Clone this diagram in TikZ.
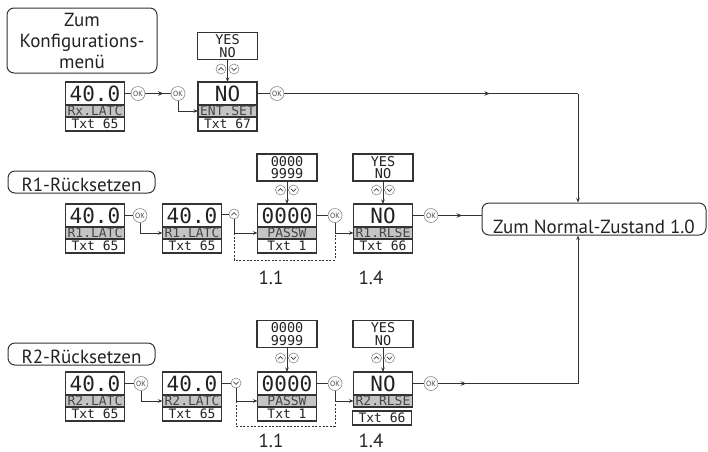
\documentclass[tikz,border=0pt]{standalone}
\usepackage{fontspec}
\setmainfont{PT Sans}
\newfontfamily\lcdfont{DejaVu Sans Mono}
\usetikzlibrary{arrows.meta,decorations.markings}
\newcommand\lcdbig{\lcdfont\fontsize{21}{21}\selectfont}
\newcommand\lcdsmall{\lcdfont\fontsize{13}{13}\selectfont}
\newcommand\lcdsel{\lcdfont\fontsize{13.5}{12.5}\selectfont}
\newcommand\bigsans{\fontsize{19}{21}\selectfont}
\definecolor{bc}{HTML}{333333}
\definecolor{lc}{HTML}{333333}
\definecolor{bandc}{HTML}{C4C4C4}
\definecolor{okc}{HTML}{8A8A8A}
\definecolor{okt}{HTML}{444444}
\definecolor{txc}{HTML}{222222}
\begin{document}
\begin{tikzpicture}[x=1pt,y=-1pt,
  ln/.style={draw=lc, line width=0.9pt},
  arr/.style={-{Stealth[length=4.5pt,width=3.5pt]}},
  midarr/.style={postaction={decorate}, decoration={markings, mark=at position #1 with {\arrow{Stealth[length=5.5pt,width=4.5pt]}}}},
  dotln/.style={draw=lc, line width=0.9pt, dash pattern=on 2pt off 1.6pt},
  disp/.style={draw=bc, line width=1.2pt, minimum width=59pt, inner sep=0pt, outer sep=0pt, anchor=north, text=txc},
  dtop/.style={disp, minimum height=23pt, font=\lcdbig},
  dband/.style={disp, minimum height=12pt, fill=bandc, font=\lcdsmall, text=okt},
  dbot/.style={disp, minimum height=14pt, font=\lcdsmall},
  selbox/.style={draw=bc, line width=1.2pt, minimum width=60pt, minimum height=27pt, inner sep=0pt, align=center, font=\lcdsel, text=txc},
  okcirc/.style={circle, draw=okc, line width=0.6pt, minimum size=14pt, inner sep=0pt, fill=white, text=okt, font=\fontsize{7.5}{7.5}\selectfont},
  keyc/.style={circle, draw=okc, line width=0.6pt, minimum size=10pt, inner sep=0pt, fill=white},
  chev/.style={draw=okt, line width=0.6pt},
  titlebox/.style={draw=bc, line width=1pt, rounded corners=7pt, inner xsep=0pt, font=\bigsans, text=txc},
  numlab/.style={font=\fontsize{19}{19}\selectfont, text=txc, inner sep=0pt}
]
\useasboundingbox (0,0) rectangle (708,451);

% title boxes
\node[titlebox, minimum width=150pt, minimum height=65pt, align=center] (K) at (82,40.5) {Zum\\Konfigurations-\\menü};
\node[titlebox, minimum width=147pt, minimum height=22pt, text height=19pt, text depth=0pt, inner ysep=1.5pt] (R1) at (81.5,182) {R1-Rücksetzen};
\node[titlebox, minimum width=147pt, minimum height=22pt, text height=19pt, text depth=0pt, inner ysep=1.5pt] (R2) at (81.5,354) {R2-Rücksetzen};
\node[titlebox, minimum width=224pt, minimum height=32pt, text height=28pt, text depth=0pt, inner ysep=2pt] (N) at (594,219) {Zum Normal-Zustand 1.0};

% ---------- row A ----------
\node[dtop] (A1t) at (95,82) {40.0};
\node[dband] (A1b) at (A1t.south) {Rx.LATC};
\node[dbot] (A1c) at (A1b.south) {Txt 65};
\node[okcirc] (A1ok) at (138,93.5) {OK};
\node[okcirc] (A2ok) at (178,93.5) {OK};

\node[selbox] (A3s) at (227.5,46) {YES\\NO};
\node[dtop] (A3t) at (227.5,82) {NO};
\node[dband] (A3b) at (A3t.south) {ENT.SET};
\node[dbot] (A3c) at (A3b.south) {Txt 67};
\node[okcirc] (A3ok) at (277,93.5) {OK};
\coordinate (Acorner) at (578,93.5);

% ---------- row B ----------
\node[dtop] (B1t) at (95,204) {40.0};
\node[dband] (B1b) at (B1t.south) {R1.LATC};
\node[dbot] (B1c) at (B1b.south) {Txt 65};
\node[okcirc] (B1ok) at (140,215.5) {OK};

\node[dtop] (B2t) at (192,204) {40.0};
\node[dband] (B2b) at (B2t.south) {R1.LATC};
\node[dbot] (B2c) at (B2b.south) {Txt 65};
\node[keyc] (B2up) at (234,214) {};

\node[selbox] (B3s) at (287,167.5) {0000\\9999};
\node[dtop] (B3t) at (287,204) {0000};
\node[dband] (B3b) at (B3t.south) {PASSW};
\node[dbot] (B3c) at (B3b.south) {Txt 1};
\node[okcirc] (B3ok) at (335,215.5) {OK};

\node[selbox] (B4s) at (383,167.5) {YES\\NO};
\node[dtop] (B4t) at (383,204) {NO};
\node[dband] (B4b) at (B4t.south) {R1.RLSE};
\node[dbot] (B4c) at (B4b.south) {Txt 66};
\node[okcirc] (B4ok) at (431,215.5) {OK};

\node[numlab] (B11) at (271,277.5) {1.1};
\node[numlab] (B14) at (371,277.5) {1.4};
\coordinate (B2d) at (234,260);
\coordinate (B3d) at (335,260);

% ---------- row C ----------
\node[dtop] (C1t) at (95,372) {40.0};
\node[dband] (C1b) at (C1t.south) {R2.LATC};
\node[dbot] (C1c) at (C1b.south) {Txt 65};
\node[okcirc] (C1ok) at (141,383.5) {OK};

\node[dtop] (C2t) at (192,372) {40.0};
\node[dband] (C2b) at (C2t.south) {R2.LATC};
\node[dbot] (C2c) at (C2b.south) {Txt 65};
\node[keyc] (C2dn) at (236,383) {};

\node[selbox] (C3s) at (287,334) {0000\\9999};
\node[dtop] (C3t) at (287,372) {0000};
\node[dband] (C3b) at (C3t.south) {PASSW};
\node[dbot] (C3c) at (C3b.south) {Txt 1};
\node[okcirc] (C3ok) at (335,383.5) {OK};

\node[selbox] (C4s) at (383,334) {YES\\NO};
\node[dtop] (C4t) at (383,372) {NO};
\node[dband] (C4b) at (C4t.south) {R2.RLSE};
\node[dbot] (C4c) at ([shift={(-1,4)}]C4b.south) {Txt 66};
\node[okcirc] (C4ok) at (431,383.5) {OK};

\node[numlab] (C11) at (271,440.5) {1.1};
\node[numlab] (C14) at (371,440.5) {1.4};
\coordinate (C2d) at (236,426);
\coordinate (C3d) at (335,426);
\coordinate (Ccorner) at (578,383.5);

% ---------- connectors ----------
\draw[ln] (A1t.east) -- (A1ok);
\draw[ln, midarr=0.72] (A1ok) -- (A2ok);
\draw[ln, arr] (A2ok) |- (A3b.west);
\draw[ln] (A3t.east) -- (A3ok);
\draw[ln, midarr=0.7] (A3ok) -- (Acorner);
\draw[ln, arr] (Acorner) -- (Acorner |- N.north);

\draw[ln] (B1t.east) -- (B1ok);
\draw[ln, arr] (B1ok) |- (B2b.west);
\draw[ln] (B2t.east |- B2up) -- (B2up);
\draw[ln, arr] (B2up) |- (B3b.west);
\draw[ln] (B3t.east) -- (B3ok);
\draw[ln, arr] (B3ok) |- (B4b.west);
\draw[ln] (B4t.east) -- (B4ok);
\draw[ln, midarr=0.55] (B4ok) -- (B4ok -| N.west);
\draw[dotln] (B2up |- B3b.west) -- (B2d) -- (B3d) -- (B3ok |- B4b.west);

\draw[ln] (C1t.east) -- (C1ok);
\draw[ln, arr] (C1ok) |- (C2b.west);
\draw[ln] (C2t.east |- C2dn) -- (C2dn);
\draw[ln, arr] (C2dn) |- (C3b.west);
\draw[ln] (C3t.east) -- (C3ok);
\draw[ln, arr] (C3ok) |- (C4b.west);
\draw[ln] (C4t.east) -- (C4ok);
\draw[ln, midarr=0.2] (C4ok) -- (Ccorner);
\draw[ln, arr] (Ccorner) -- (Ccorner |- N.south);
\draw[dotln] (C2dn |- C3b.west) -- (C2d) -- (C3d) -- (C3ok |- C4b.west);

% selection box -> display arrows
\foreach \s/\t in {A3s/A3t,B3s/B3t,B4s/B4t,C3s/C3t,C4s/C4t}{
  \draw[ln, arr] (\s) -- (\t);
}

% up/down key pairs
\foreach \s/\yy in {A3s/69,B3s/190,B4s/190,C3s/358,C4s/358}{
  \node[keyc] (\s u) at ([xshift=-6.5pt]\s.south |- 0,\yy) {};
  \node[keyc] (\s d) at ([xshift=6.5pt]\s.south |- 0,\yy) {};
}

% chevrons
\foreach \u in {A3su,B3su,B4su,C3su,C4su,B2up}{
  \draw[chev] ([shift={(-2.6,1.2)}]\u.center) -- ([shift={(0,-1.4)}]\u.center) -- ([shift={(2.6,1.2)}]\u.center);
}
\foreach \d in {A3sd,B3sd,B4sd,C3sd,C4sd,C2dn}{
  \draw[chev] ([shift={(-2.6,-1.2)}]\d.center) -- ([shift={(0,1.4)}]\d.center) -- ([shift={(2.6,-1.2)}]\d.center);
}
\end{tikzpicture}
\end{document}
